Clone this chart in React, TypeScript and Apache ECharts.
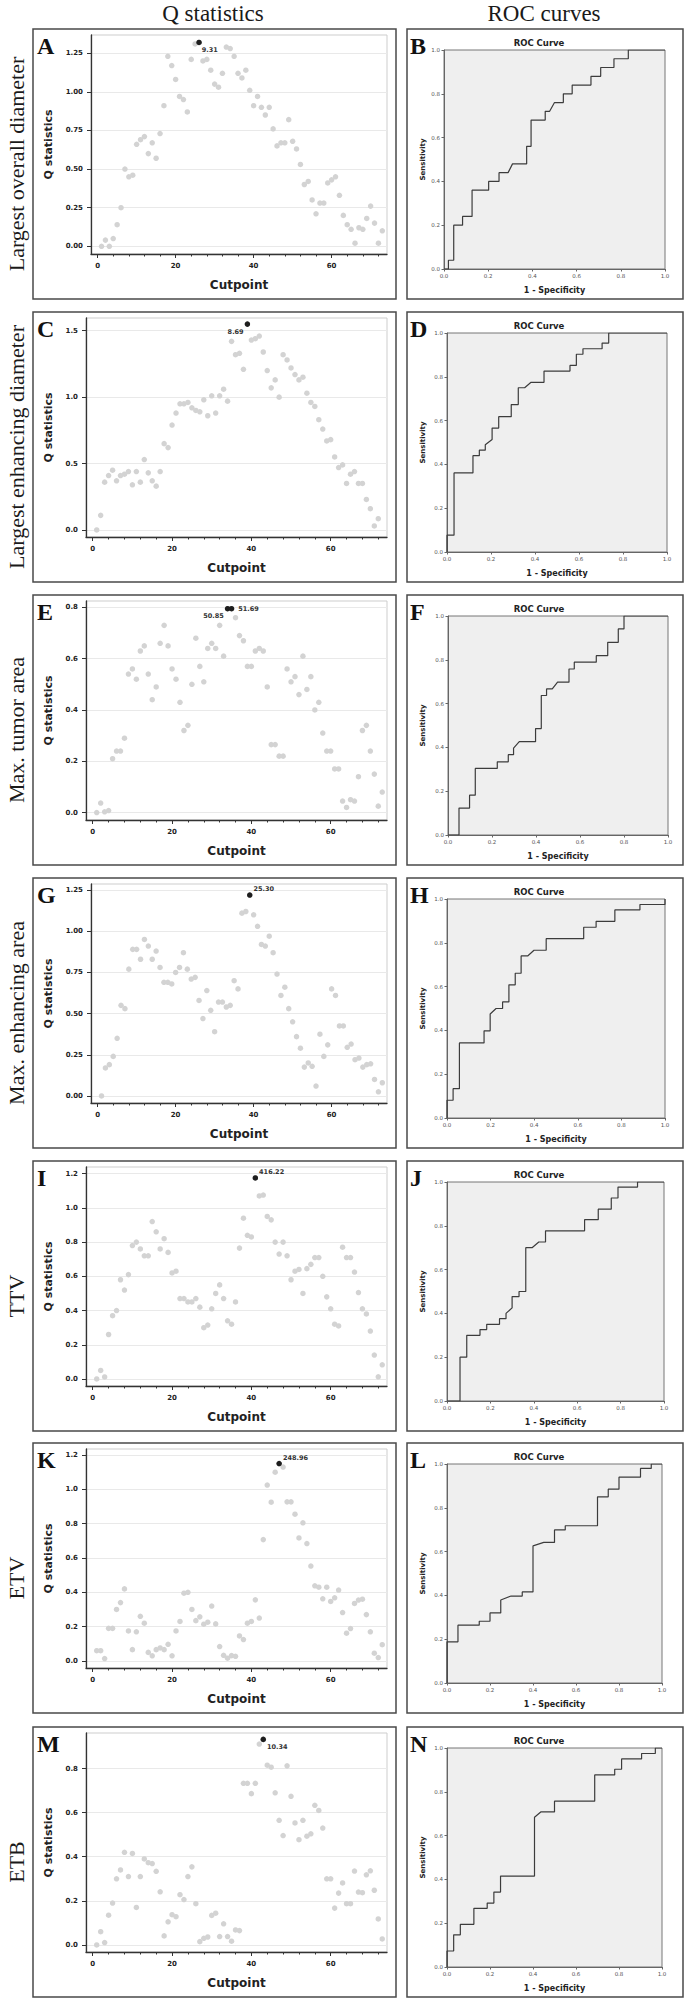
import React, { useEffect, useRef } from "react";
import * as echarts from "echarts";

// ---------- data ----------
const cutpointTicks = [0, 20, 40, 60];
const cutpointMinorTicks = [4, 8, 12, 16, 24, 28, 32, 36, 44, 48, 52, 56, 64, 68, 72];
const rocTicks = [0, 0.2, 0.4, 0.6, 0.8, 1.0];

const rowLabels = [
  "Largest overall diameter",
  "Largest enhancing diameter",
  "Max. tumor area",
  "Max. enhancing area",
  "TTV",
  "ETV",
  "ETB",
];
const qLetters = ["A", "C", "E", "G", "I", "K", "M"];
const rocLetters = ["B", "D", "F", "H", "J", "L", "N"];

const qA = [0.00, 0.04, 0.00, 0.05, 0.14, 0.25, 0.50, 0.45, 0.46, 0.66,
  0.69, 0.71, 0.60, 0.67, 0.57, 0.73, 0.91, 1.23, 1.17, 1.08,
  0.97, 0.95, 0.87, 1.21, 1.31, 1.32, 1.20, 1.21, 1.14, 1.05,
  1.03, 1.12, 1.29, 1.28, 1.23, 1.12, 1.09, 1.14, 1.01, 0.91,
  0.97, 0.90, 0.85, 0.90, 0.76, 0.65, 0.67, 0.67, 0.82, 0.68,
  0.63, 0.53, 0.40, 0.42, 0.30, 0.21, 0.28, 0.28, 0.41, 0.43,
  0.45, 0.33, 0.20, 0.14, 0.11, 0.02, 0.12, 0.11, 0.18, 0.26,
  0.15, 0.02, 0.10];
const qC = [0.00, 0.11, 0.36, 0.41, 0.45, 0.37, 0.41, 0.42, 0.44, 0.34,
  0.44, 0.36, 0.53, 0.43, 0.37, 0.33, 0.44, 0.65, 0.62, 0.79,
  0.88, 0.95, 0.95, 0.96, 0.92, 0.90, 0.89, 0.98, 0.86, 1.01,
  0.88, 1.01, 1.06, 0.97, 1.42, 1.32, 1.33, 1.21, 1.55, 1.43,
  1.44, 1.46, 1.34, 1.20, 1.07, 1.13, 1.00, 1.32, 1.28, 1.22,
  1.17, 1.13, 1.15, 1.03, 0.96, 0.93, 0.83, 0.76, 0.67, 0.68,
  0.55, 0.47, 0.49, 0.35, 0.42, 0.44, 0.35, 0.35, 0.23, 0.16,
  0.03, 0.085];
const qE = [0.00, 0.037, 0.003, 0.008, 0.21, 0.24, 0.24, 0.29, 0.54, 0.56,
  0.52, 0.63, 0.65, 0.54, 0.44, 0.49, 0.66, 0.73, 0.65, 0.56,
  0.52, 0.43, 0.32, 0.34, 0.50, 0.68, 0.57, 0.51, 0.64, 0.66,
  0.64, 0.73, 0.61, 0.795, 0.795, 0.76, 0.69, 0.67, 0.57, 0.57,
  0.63, 0.64, 0.63, 0.49, 0.265, 0.265, 0.22, 0.22, 0.56, 0.51,
  0.53, 0.46, 0.61, 0.48, 0.53, 0.40, 0.43, 0.31, 0.24, 0.24,
  0.17, 0.17, 0.045, 0.02, 0.05, 0.045, 0.14, 0.32, 0.34, 0.24,
  0.15, 0.025, 0.08];
const qG = [0.00, 0.17, 0.19, 0.24, 0.35, 0.55, 0.53, 0.77, 0.89, 0.89,
  0.83, 0.95, 0.91, 0.83, 0.88, 0.78, 0.69, 0.69, 0.68, 0.75,
  0.78, 0.87, 0.77, 0.71, 0.72, 0.58, 0.47, 0.64, 0.52, 0.39,
  0.57, 0.57, 0.54, 0.55, 0.70, 0.65, 1.11, 1.12, 1.22, 1.10,
  1.03, 0.92, 0.91, 0.97, 0.87, 0.74, 0.61, 0.66, 0.53, 0.45,
  0.36, 0.29, 0.175, 0.20, 0.18, 0.06, 0.375, 0.24, 0.31, 0.65,
  0.61, 0.425, 0.425, 0.295, 0.315, 0.22, 0.23, 0.175, 0.19, 0.195,
  0.10, 0.025, 0.08];
const qI = [0.00, 0.05, 0.012, 0.26, 0.37, 0.40, 0.58, 0.52, 0.61, 0.78,
  0.80, 0.76, 0.72, 0.72, 0.92, 0.86, 0.76, 0.82, 0.74, 0.62,
  0.63, 0.47, 0.47, 0.45, 0.45, 0.47, 0.42, 0.30, 0.315, 0.41,
  0.50, 0.55, 0.47, 0.34, 0.32, 0.45, 0.765, 0.94, 0.84, 0.83,
  1.175, 1.07, 1.075, 0.95, 0.93, 0.80, 0.73, 0.80, 0.72, 0.58,
  0.63, 0.64, 0.50, 0.645, 0.67, 0.71, 0.71, 0.60, 0.48, 0.41,
  0.32, 0.31, 0.77, 0.71, 0.71, 0.625, 0.505, 0.41, 0.38, 0.28,
  0.14, 0.013, 0.083];
const qK = [0.06, 0.06, 0.014, 0.19, 0.19, 0.30, 0.34, 0.42, 0.175, 0.066,
  0.17, 0.26, 0.22, 0.05, 0.03, 0.066, 0.076, 0.066, 0.097, 0.03,
  0.175, 0.23, 0.395, 0.40, 0.30, 0.235, 0.257, 0.214, 0.226, 0.32,
  0.216, 0.084, 0.033, 0.016, 0.031, 0.027, 0.146, 0.125, 0.22, 0.23,
  0.356, 0.25, 0.707, 1.025, 0.925, 1.10, 1.15, 1.13, 0.927, 0.927,
  0.855, 0.717, 0.805, 0.684, 0.553, 0.438, 0.43, 0.362, 0.43, 0.347,
  0.368, 0.413, 0.282, 0.162, 0.189, 0.335, 0.355, 0.36, 0.27, 0.17,
  0.045, 0.02, 0.095];
const qM = [0.00, 0.06, 0.011, 0.135, 0.19, 0.30, 0.34, 0.42, 0.31, 0.415,
  0.17, 0.31, 0.39, 0.373, 0.369, 0.334, 0.241, 0.041, 0.105, 0.137,
  0.128, 0.228, 0.206, 0.31, 0.354, 0.187, 0.015, 0.03, 0.036, 0.134,
  0.144, 0.038, 0.096, 0.038, 0.017, 0.068, 0.065, 0.733, 0.733, 0.686,
  0.733, 0.911, 0.932, 0.815, 0.806, 0.69, 0.565, 0.496, 0.812, 0.674,
  0.553, 0.477, 0.565, 0.493, 0.504, 0.633, 0.61, 0.53, 0.30, 0.30,
  0.167, 0.235, 0.281, 0.187, 0.187, 0.335, 0.24, 0.237, 0.318, 0.336,
  0.248, 0.118, 0.027];
const qSeries = [qA, qC, qE, qG, qI, qK, qM];

const qTicksA = [0, 0.25, 0.5, 0.75, 1.0, 1.25];
const qTicksC = [0, 0.5, 1.0, 1.5];
const qTicksE = [0, 0.2, 0.4, 0.6, 0.8];
const qTicksG = [0, 0.25, 0.5, 0.75, 1.0, 1.25];
const qTicksI = [0, 0.2, 0.4, 0.6, 0.8, 1.0, 1.2];
const qTicksK = [0, 0.2, 0.4, 0.6, 0.8, 1.0, 1.2];
const qTicksM = [0, 0.2, 0.4, 0.6, 0.8];
const qTicks = [qTicksA, qTicksC, qTicksE, qTicksG, qTicksI, qTicksK, qTicksM];
const qTickDecimals = [2, 1, 1, 2, 1, 1, 1];

// optimal cutpoints (index of cutpoint, label)
const bestCuts = [
  [{ cut: 26, text: "9.31" }],
  [{ cut: 39, text: "8.69" }],
  [{ cut: 34, text: "50.85" }, { cut: 35, text: "51.69" }],
  [{ cut: 39, text: "25.30" }],
  [{ cut: 41, text: "416.22" }],
  [{ cut: 47, text: "248.96" }],
  [{ cut: 43, text: "10.34" }],
];

const rocB = [[0, 0], [0.02, 0], [0.02, 0.04], [0.044, 0.04], [0.044, 0.2], [0.084, 0.2], [0.084, 0.24], [0.127, 0.24], [0.127, 0.36], [0.202, 0.36], [0.202, 0.40], [0.249, 0.40], [0.249, 0.44], [0.29, 0.44], [0.31, 0.48], [0.374, 0.48], [0.374, 0.56], [0.394, 0.56], [0.394, 0.68], [0.458, 0.68], [0.458, 0.72], [0.478, 0.72], [0.5, 0.76], [0.54, 0.76], [0.54, 0.80], [0.58, 0.80], [0.58, 0.84], [0.665, 0.84], [0.665, 0.88], [0.709, 0.88], [0.709, 0.92], [0.769, 0.92], [0.769, 0.96], [0.834, 0.96], [0.834, 1], [1, 1]];
const rocD = [[0, 0], [0, 0.077], [0.032, 0.077], [0.032, 0.361], [0.118, 0.361], [0.118, 0.44], [0.147, 0.44], [0.147, 0.465], [0.174, 0.465], [0.174, 0.49], [0.205, 0.514], [0.205, 0.566], [0.235, 0.566], [0.235, 0.618], [0.292, 0.618], [0.292, 0.673], [0.324, 0.673], [0.324, 0.75], [0.353, 0.75], [0.382, 0.775], [0.441, 0.775], [0.441, 0.826], [0.559, 0.826], [0.559, 0.852], [0.588, 0.852], [0.588, 0.903], [0.618, 0.903], [0.618, 0.928], [0.705, 0.928], [0.705, 0.954], [0.735, 0.954], [0.735, 1], [1, 1]];
const rocF = [[0, 0], [0.05, 0], [0.05, 0.123], [0.098, 0.123], [0.098, 0.182], [0.124, 0.182], [0.124, 0.304], [0.224, 0.304], [0.224, 0.334], [0.274, 0.334], [0.274, 0.367], [0.298, 0.367], [0.298, 0.397], [0.324, 0.426], [0.398, 0.426], [0.398, 0.486], [0.424, 0.486], [0.424, 0.637], [0.448, 0.637], [0.448, 0.667], [0.474, 0.667], [0.498, 0.698], [0.55, 0.698], [0.55, 0.758], [0.574, 0.758], [0.574, 0.789], [0.674, 0.789], [0.674, 0.819], [0.726, 0.819], [0.726, 0.88], [0.774, 0.88], [0.774, 0.941], [0.8, 0.941], [0.8, 1], [1, 1]];
const rocH = [[0, 0], [0, 0.081], [0.028, 0.081], [0.028, 0.134], [0.057, 0.134], [0.057, 0.343], [0.17, 0.343], [0.17, 0.398], [0.198, 0.398], [0.198, 0.475], [0.225, 0.5], [0.255, 0.5], [0.255, 0.53], [0.284, 0.53], [0.284, 0.608], [0.313, 0.608], [0.313, 0.661], [0.34, 0.661], [0.34, 0.74], [0.37, 0.74], [0.399, 0.766], [0.455, 0.766], [0.455, 0.819], [0.627, 0.819], [0.627, 0.871], [0.684, 0.871], [0.684, 0.898], [0.77, 0.898], [0.77, 0.95], [0.885, 0.95], [0.885, 0.975], [1, 0.975], [1, 1]];
const rocJ = [[0, 0], [0.06, 0], [0.06, 0.2], [0.091, 0.2], [0.091, 0.30], [0.152, 0.30], [0.152, 0.326], [0.183, 0.326], [0.183, 0.35], [0.242, 0.35], [0.242, 0.376], [0.272, 0.376], [0.272, 0.40], [0.30, 0.425], [0.30, 0.477], [0.332, 0.477], [0.332, 0.50], [0.363, 0.50], [0.363, 0.70], [0.392, 0.70], [0.423, 0.726], [0.454, 0.726], [0.454, 0.777], [0.634, 0.777], [0.634, 0.828], [0.697, 0.828], [0.697, 0.876], [0.757, 0.876], [0.757, 0.927], [0.788, 0.927], [0.788, 0.977], [0.878, 0.977], [0.878, 1], [1, 1]];
const rocL = [[0, 0], [0, 0.188], [0.051, 0.188], [0.051, 0.264], [0.15, 0.264], [0.15, 0.282], [0.2, 0.282], [0.2, 0.32], [0.25, 0.32], [0.25, 0.379], [0.298, 0.397], [0.35, 0.397], [0.35, 0.416], [0.40, 0.416], [0.40, 0.626], [0.45, 0.642], [0.50, 0.642], [0.50, 0.699], [0.55, 0.699], [0.55, 0.718], [0.70, 0.718], [0.70, 0.85], [0.75, 0.85], [0.75, 0.885], [0.80, 0.885], [0.80, 0.94], [0.90, 0.94], [0.90, 0.98], [0.95, 0.98], [0.95, 1], [1, 1]];
const rocN = [[0, 0], [0, 0.073], [0.031, 0.073], [0.031, 0.147], [0.062, 0.147], [0.062, 0.195], [0.125, 0.195], [0.125, 0.268], [0.187, 0.268], [0.187, 0.292], [0.218, 0.292], [0.218, 0.342], [0.249, 0.342], [0.249, 0.415], [0.407, 0.415], [0.407, 0.684], [0.436, 0.708], [0.50, 0.708], [0.50, 0.757], [0.687, 0.757], [0.687, 0.877], [0.78, 0.877], [0.78, 0.903], [0.812, 0.903], [0.812, 0.95], [0.905, 0.95], [0.905, 0.975], [0.969, 0.975], [0.969, 1], [1, 1]];
const rocSeries = [rocB, rocD, rocF, rocH, rocJ, rocL, rocN];

// ---------- layout ----------
const W = 685;
const H = 1999;
const SANS = "'DejaVu Sans', sans-serif";
const SERIF = "'Liberation Serif', 'Times New Roman', serif";
const panelTops = [29, 312, 595, 878, 1161, 1443, 1727];
const BOX_H = 270;
const Q_BOX_X = 33, Q_BOX_W = 363;
const R_BOX_X = 407, R_BOX_W = 276;
const qPlotLeft = [91, 86, 86, 91, 86, 86, 86];
const Q_PLOT_RIGHT = 387;
const Q_PLOT_DY = 6, Q_PLOT_H = 219;
const X_RANGE = [-1.7, 74.2];
const qYRange = [[-0.05, 1.368], [-0.053, 1.596], [-0.029, 0.825], [-0.043, 1.287], [-0.041, 1.239], [-0.041, 1.235], [-0.032, 0.961]];
const rocPlotLeft = [444, 447, 448, 447, 447, 447, 447];
const rocPlotRight = [665, 667, 668, 665, 664, 662, 662];
const R_PLOT_DY = 21, R_PLOT_H = 219;
// label placement for the optimal cutpoint labels
const bestCutLabelPos = [
  [{ position: "right", distance: 0, offset: [0, 8] }],
  [{ position: "left", distance: 1, offset: [0, 8] }],
  [{ position: "left", distance: 1, offset: [0, 7] }, { position: "right", distance: 4, offset: [0, 0] }],
  [{ position: "right", distance: 1, offset: [0, -6] }],
  [{ position: "right", distance: 1, offset: [0, -6] }],
  [{ position: "right", distance: 1, offset: [0, -6] }],
  [{ position: "right", distance: 1, offset: [0, 8] }],
];

function buildOption() {
  const grid: any[] = [];
  const xAxis: any[] = [];
  const yAxis: any[] = [];
  const series: any[] = [];
  const graphic: any[] = [];

  const txt = (x: number, y: number, text: string, o: any = {}) => ({
    type: "text",
    x,
    y,
    rotation: o.rotation || 0,
    silent: true,
    style: {
      text,
      fill: o.fill || "#1a1a1a",
      fontSize: o.fontSize || 10,
      fontFamily: o.fontFamily || SANS,
      fontWeight: o.fontWeight || "normal",
      align: o.align || "center",
      verticalAlign: o.verticalAlign || "middle",
      textAlign: o.align || "center",
      textVerticalAlign: o.verticalAlign || "middle",
    },
  });

  graphic.push(txt(213, 13, "Q statistics", { fontSize: 23, fontFamily: SERIF }));
  graphic.push(txt(544, 13, "ROC curves", { fontSize: 23, fontFamily: SERIF }));

  for (let i = 0; i < 7; i++) {
    const top = panelTops[i];
    // boxes
    graphic.push({ type: "rect", silent: true, shape: { x: Q_BOX_X, y: top, width: Q_BOX_W, height: BOX_H }, style: { fill: "none", stroke: "#4a4a4a", lineWidth: 1.5 } });
    graphic.push({ type: "rect", silent: true, shape: { x: R_BOX_X, y: top, width: R_BOX_W, height: BOX_H }, style: { fill: "none", stroke: "#4a4a4a", lineWidth: 1.5 } });
    // row label
    graphic.push(txt(16, top + BOX_H / 2, rowLabels[i], { fontSize: 22, fontFamily: SERIF, rotation: Math.PI / 2 }));
    // letters
    graphic.push(txt(37, top + 17, qLetters[i], { fontSize: 24, fontFamily: SERIF, fontWeight: "bold", align: "left", fill: "#111" }));
    graphic.push(txt(410, top + 17, rocLetters[i], { fontSize: 24, fontFamily: SERIF, fontWeight: "bold", align: "left", fill: "#111" }));

    // ---- Q statistics panel ----
    const qLeft = qPlotLeft[i];
    const qTop = top + Q_PLOT_DY;
    const gq = grid.length;
    grid.push({ left: qLeft, top: qTop, width: Q_PLOT_RIGHT - qLeft, height: Q_PLOT_H, show: true, borderColor: "#cdcdcd", borderWidth: 1, backgroundColor: "#ffffff" });
    const xq = xAxis.length;
    xAxis.push({
      type: "value", gridIndex: gq, min: X_RANGE[0], max: X_RANGE[1], position: "bottom",
      axisLine: { show: true, onZero: false, lineStyle: { color: "#333", width: 1.3 } },
      axisTick: { show: true, customValues: cutpointTicks, length: 4, lineStyle: { color: "#333", width: 1 } },
      axisLabel: { show: true, customValues: cutpointTicks, fontSize: 7, fontWeight: "bold", fontFamily: SANS, color: "#222", margin: 8 },
      splitLine: { show: false },
    });
    xAxis.push({
      type: "value", gridIndex: gq, min: X_RANGE[0], max: X_RANGE[1], position: "bottom",
      axisLine: { show: false, onZero: false },
      axisTick: { show: true, customValues: cutpointMinorTicks, length: 2.5, lineStyle: { color: "#333", width: 1 } },
      axisLabel: { show: false },
      splitLine: { show: false },
    });
    const yq = yAxis.length;
    const dec = qTickDecimals[i];
    yAxis.push({
      type: "value", gridIndex: gq, min: qYRange[i][0], max: qYRange[i][1],
      axisLine: { show: true, onZero: false, lineStyle: { color: "#333", width: 1.3 } },
      axisTick: { show: true, customValues: qTicks[i], length: 4, lineStyle: { color: "#333", width: 1 } },
      axisLabel: { show: true, customValues: qTicks[i], fontSize: 7, fontWeight: "bold", fontFamily: SANS, color: "#222", margin: 8, formatter: (v: number) => v.toFixed(dec) },
      splitLine: { show: true, lineStyle: { color: "#e9e9e9", width: 1 } },
    });
    const q = qSeries[i];
    series.push({
      type: "scatter", xAxisIndex: xq, yAxisIndex: yq, silent: true,
      symbolSize: 5.5, itemStyle: { color: "#d3d3d3", opacity: 1 },
      data: q.map((v, k) => [k + 1, v]),
      z: 2,
    });
    series.push({
      type: "scatter", xAxisIndex: xq, yAxisIndex: yq, silent: true,
      symbolSize: 5.5, itemStyle: { color: "#1e1e1e", opacity: 1 },
      data: bestCuts[i].map((b, k) => ({
        value: [b.cut, q[b.cut - 1]],
        label: {
          show: true, formatter: b.text,
          position: bestCutLabelPos[i][k].position,
          distance: bestCutLabelPos[i][k].distance,
          offset: bestCutLabelPos[i][k].offset,
          fontSize: 6.5, fontWeight: "bold", fontFamily: SANS, color: "#333",
        },
      })),
      z: 3,
    });
    graphic.push(txt((qLeft + Q_PLOT_RIGHT) / 2, top + 256, "Cutpoint", { fontSize: 12, fontWeight: "bold", fill: "#222" }));
    graphic.push(txt(48, qTop + Q_PLOT_H / 2, "Q statistics", { fontSize: 11, fontWeight: "bold", fill: "#222", rotation: Math.PI / 2 }));

    // ---- ROC panel ----
    const rLeft = rocPlotLeft[i];
    const rRight = rocPlotRight[i];
    const rTop = top + R_PLOT_DY;
    const gr = grid.length;
    grid.push({ left: rLeft, top: rTop, width: rRight - rLeft, height: R_PLOT_H, show: true, backgroundColor: "#efefef", borderColor: "#777", borderWidth: 1 });
    const xr = xAxis.length;
    xAxis.push({
      type: "value", gridIndex: gr, min: 0, max: 1, interval: 0.2, position: "bottom",
      axisLine: { show: true, onZero: false, lineStyle: { color: "#666", width: 1 } },
      axisTick: { show: true, customValues: rocTicks, length: 2.5, lineStyle: { color: "#666" } },
      axisLabel: { show: true, customValues: rocTicks, fontSize: 5.5, fontFamily: SANS, color: "#555", margin: 4, formatter: (v: number) => v.toFixed(1) },
      splitLine: { show: false },
    });
    const yr = yAxis.length;
    yAxis.push({
      type: "value", gridIndex: gr, min: 0, max: 1, interval: 0.2,
      axisLine: { show: true, onZero: false, lineStyle: { color: "#666", width: 1 } },
      axisTick: { show: true, customValues: rocTicks, length: 2.5, lineStyle: { color: "#666" } },
      axisLabel: { show: true, customValues: rocTicks, fontSize: 5.5, fontFamily: SANS, color: "#555", margin: 4, formatter: (v: number) => v.toFixed(1) },
      splitLine: { show: false },
    });
    series.push({
      type: "line", xAxisIndex: xr, yAxisIndex: yr, silent: true,
      data: rocSeries[i], showSymbol: false, symbol: "none",
      lineStyle: { color: "#3c3c3c", width: 1.2 },
      z: 2,
    });
    graphic.push(txt(539, top + 14, "ROC Curve", { fontSize: 8.5, fontWeight: "bold", fill: "#222" }));
    graphic.push(txt((rLeft + rRight) / 2, top + 261, "1 - Specificity", { fontSize: 8, fontWeight: "bold", fill: "#222" }));
    graphic.push(txt(423, rTop + R_PLOT_H / 2, "Sensitivity", { fontSize: 7, fontWeight: "bold", fill: "#222", rotation: Math.PI / 2 }));
  }

  return {
    animation: false,
    backgroundColor: "#ffffff",
    grid,
    xAxis,
    yAxis,
    series,
    graphic: { elements: graphic },
  };
}

export default function App() {
  const ref = useRef<HTMLDivElement>(null);
  useEffect(() => {
    document.body.style.margin = "0";
    if (!ref.current) return;
    const chart = echarts.init(ref.current, undefined, { renderer: "svg", width: W, height: H });
    chart.setOption(buildOption() as any);
    return () => chart.dispose();
  }, []);
  return <div ref={ref} style={{ width: W, height: H }} />;
}
